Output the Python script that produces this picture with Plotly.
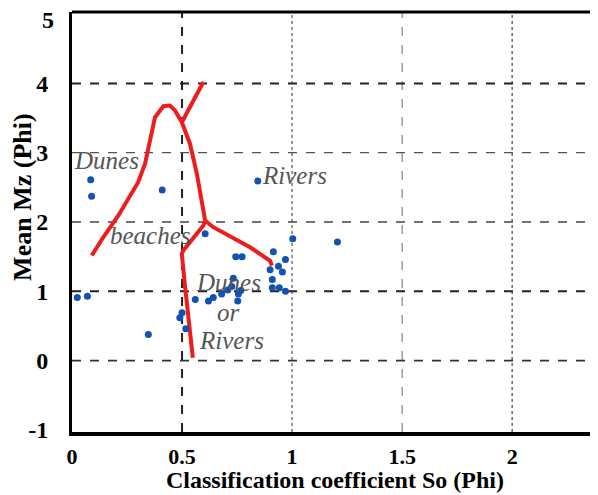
import plotly.graph_objects as go

# Sample points (So, Mz)
so_vals = [0.085, 0.089, 0.41, 0.605, 0.024, 0.07, 0.347, 0.49, 0.50, 0.517, 0.56,
           0.844, 1.003, 1.206, 0.915, 0.744, 0.773, 0.97, 0.938, 0.90, 0.956,
           0.733, 0.91, 0.726, 0.708, 0.68, 0.642, 0.62, 0.756, 0.767, 0.753,
           0.91, 0.942, 0.97]
mz_vals = [2.61, 2.37, 2.46, 1.83, 0.91, 0.93, 0.375, 0.62, 0.69, 0.46, 0.88,
           2.59, 1.76, 1.71, 1.57, 1.50, 1.50, 1.46, 1.36, 1.31, 1.28,
           1.19, 1.17, 1.07, 1.02, 0.96, 0.91, 0.86, 0.96, 1.01, 0.86,
           1.05, 1.05, 1.00]

# Hand-drawn boundary lines
b1_x = [0.0895, 0.142, 0.21, 0.30, 0.332, 0.377, 0.415, 0.445, 0.468, 0.499, 0.536, 0.567, 0.605]
b1_y = [1.516, 1.78, 2.09, 2.57, 2.84, 3.51, 3.67, 3.68, 3.61, 3.44, 3.13, 2.70, 2.02]
b2_x = [0.499, 0.597]
b2_y = [3.44, 4.02]
b3_x = [0.605, 0.642, 0.809, 0.90, 0.908]
b3_y = [2.02, 1.925, 1.636, 1.44, 1.37]
b4_x = [0.605, 0.597, 0.506, 0.499, 0.514, 0.529, 0.549]
b4_y = [2.02, 1.95, 1.59, 1.54, 1.06, 0.58, 0.04]

labels = ["Dunes", "Rivers", "beaches", "Dunes", "or", "Rivers"]
label_x = [0.155, 1.01, 0.355, 0.71, 0.71, 0.723]
label_y = [2.89, 2.67, 1.80, 1.13, 0.70, 0.29]

x_ticks = [0, 0.5, 1, 1.5, 2]
x_ticktext = ["0", "0.5", "1", "1.5", "2"]
y_ticks = [-1, 0, 1, 2, 3, 4]
y_top_label = "5"

fig = go.Figure()

red = "#ee1c1c"
for bx, by in [(b1_x, b1_y), (b2_x, b2_y), (b3_x, b3_y), (b4_x, b4_y)]:
    fig.add_trace(go.Scatter(x=bx, y=by, mode="lines",
                             line=dict(color=red, width=4),
                             hoverinfo="skip", showlegend=False))

fig.add_trace(go.Scatter(x=so_vals, y=mz_vals, mode="markers",
                         marker=dict(color="#1451b0", size=7),
                         showlegend=False))

for t, lx, ly in zip(labels, label_x, label_y):
    fig.add_annotation(x=lx, y=ly, text="<i>" + t + "</i>", showarrow=False,
                       font=dict(family="Liberation Serif", size=25, color="#555555"),
                       xanchor="center", yanchor="middle")

# grid lines
grid = [
    ("x", 0.5, "#222222", 2, "dash"),
    ("x", 1.0, "#777777", 1.5, "dot"),
    ("x", 1.5, "#666666", 1, "dash"),
    ("x", 2.0, "#666666", 1.5, "dot"),
    ("y", 4, "#222222", 2, "dash"),
    ("y", 3, "#555555", 1.3, "dash"),
    ("y", 2, "#444444", 1.3, "dash"),
    ("y", 1, "#222222", 2, "dash"),
    ("y", 0, "#333333", 1.6, "dash"),
]
for ax, v, c, w, d in grid:
    if ax == "x":
        fig.add_shape(type="line", x0=v, x1=v, y0=0, y1=1, xref="x", yref="paper",
                      line=dict(color=c, width=w, dash=d), layer="below")
    else:
        fig.add_shape(type="line", x0=0, x1=1, y0=v, y1=v, xref="paper", yref="y",
                      line=dict(color=c, width=w, dash=d), layer="below")

# top border
fig.add_shape(type="line", x0=0, x1=1, y0=1, y1=1, xref="paper", yref="paper",
              line=dict(color="black", width=3))

xtickfont = dict(family="Liberation Serif", size=22, color="black")
ytickfont = dict(family="Liberation Serif", size=24, color="black")
fig.update_layout(
    width=590, height=487,
    margin=dict(l=64, r=0, t=4, b=63),
    paper_bgcolor="white", plot_bgcolor="white",
    xaxis=dict(range=[0, 2.39], tickvals=x_ticks, ticktext=["<b>%s</b>" % t for t in x_ticktext],
               showgrid=False, zeroline=False, showline=True, linecolor="black", linewidth=3.5,
               ticks="", tickfont=xtickfont, ticklabelstandoff=2, automargin=False),
    yaxis=dict(range=[-1.03, 5.03], tickvals=y_ticks, ticktext=["<b>%d</b>" % t for t in y_ticks],
               showgrid=False, zeroline=False, showline=True, linecolor="black", linewidth=3,
               ticks="", tickfont=ytickfont, ticklabelstandoff=16, automargin=False),
)

# top y label (drawn slightly below the border, as in the original)
fig.add_annotation(text="<b>%s</b>" % y_top_label, xref="paper", yref="paper",
                   x=0, y=1, xanchor="right", yanchor="middle", xshift=-16, yshift=-8,
                   showarrow=False, font=ytickfont)

fig.add_annotation(text="<b>Classification coefficient So (Phi)</b>", xref="paper", yref="paper",
                   x=0.5, y=-0.15, showarrow=False, yanchor="bottom", xanchor="center",
                   font=dict(family="Liberation Serif", size=24, color="black"))
fig.add_annotation(text="<b>Mean Mz (Phi)</b>", xref="paper", yref="paper",
                   x=-0.093, y=0.56, showarrow=False, textangle=-90, xanchor="center", yanchor="middle",
                   font=dict(family="Liberation Serif", size=26, color="black"))

fig.write_html("out.html")
